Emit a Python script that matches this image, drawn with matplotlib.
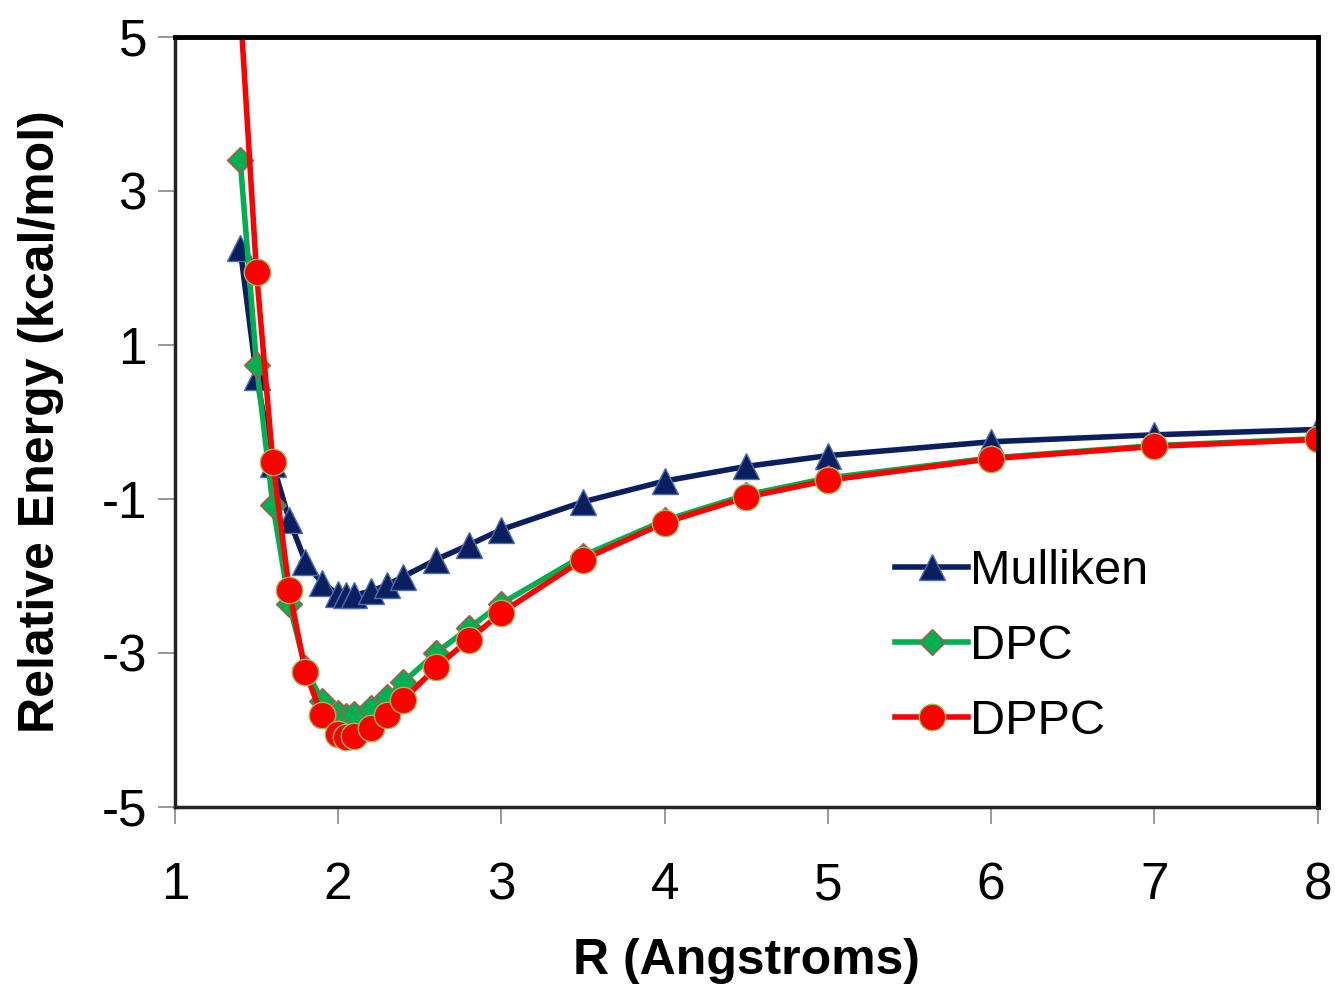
import numpy as np
import matplotlib
matplotlib.use("Agg")
import matplotlib.pyplot as plt

plt.rcParams['font.family'] = ['Liberation Sans', 'DejaVu Sans']
plt.rcParams['axes.unicode_minus'] = False

# distances (Angstroms)
r = [1.4, 1.5, 1.6, 1.7, 1.8, 1.9, 2.0, 2.05, 2.1, 2.2, 2.3, 2.4,
     2.6, 2.8, 3.0, 3.5, 4.0, 4.5, 5.0, 6.0, 7.0, 8.0]

mulliken = [2.25, 0.58, -0.55, -1.27, -1.82, -2.09, -2.24, -2.25, -2.25, -2.20, -2.12, -2.01,
            -1.79, -1.60, -1.40, -1.04, -0.77, -0.58, -0.44, -0.26, -0.17, -0.10]
dpc = [3.40, 0.74, -1.08, -2.36, -3.20, -3.62, -3.78, -3.82, -3.80, -3.72, -3.57, -3.38,
       -3.00, -2.68, -2.36, -1.74, -1.28, -0.95, -0.73, -0.47, -0.31, -0.22]
dppc = [5.4, 1.94, -0.52, -2.18, -3.25, -3.81, -4.06, -4.09, -4.08, -3.97, -3.81, -3.61,
        -3.19, -2.83, -2.48, -1.79, -1.31, -0.98, -0.76, -0.48, -0.32, -0.23]

fig = plt.figure(figsize=(13.35, 9.9), dpi=100)
ax = fig.add_axes([0.131, 0.185, 0.856, 0.778])

ax.plot(r, mulliken, color='#0b1f5e', lw=4, marker='^', ms=19,
        mfc='#0b1f5e', mec='#4a6fb5', mew=1, label='Mulliken')
ax.plot(r, dpc, color='#00b050', lw=4, marker='D', ms=13,
        mfc='#00b050', mec='#c0504d', mew=1, label='DPC')
ax.plot(r, dppc, color='#ff0000', lw=4, marker='o', ms=19,
        mfc='#ff0000', mec='#9bbb59', mew=1, label='DPPC')

ax.set_xlim(1, 8)
ax.set_ylim(-5, 5)
ax.set_xticks(np.arange(1, 9, 1))
ax.set_yticks([-5, -3, -1, 1, 3, 5])

for side in ['top', 'right']:
    ax.spines[side].set_linewidth(3.5)
    ax.spines[side].set_color('black')
for side in ['left', 'bottom']:
    ax.spines[side].set_linewidth(2.5)
    ax.spines[side].set_color('#222222')

ax.tick_params(axis='both', direction='out', length=12, width=1.2, color='#888888',
               labelsize=37, pad=8)
ax.tick_params(axis='x', pad=27)

ax.set_xlabel('R (Angstroms)', fontsize=36, fontweight='bold', labelpad=20)
ax.set_ylabel('Relative Energy (kcal/mol)', fontsize=36, fontweight='bold', labelpad=27)

ax.legend(loc='center left', bbox_to_anchor=(0.609, 0.208), frameon=False, fontsize=35,
          handlelength=1.5, handletextpad=0.05, labelspacing=0.62, borderpad=0)

fig.savefig('out.png', dpi=100)
